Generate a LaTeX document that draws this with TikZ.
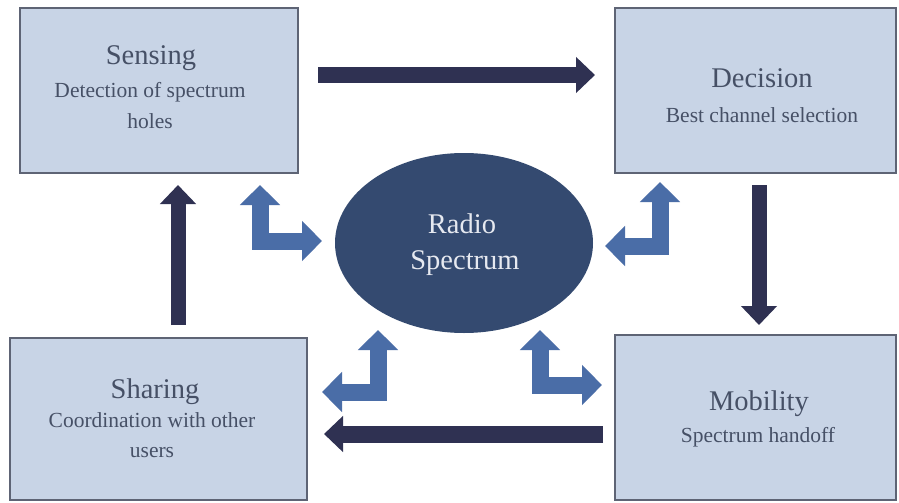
\documentclass[tikz,border=0pt]{standalone}
\usepackage{fontspec}
\setmainfont{Liberation Serif}
\usetikzlibrary{arrows.meta,shapes.geometric}
\definecolor{boxfill}{HTML}{C8D4E6}
\definecolor{boxline}{HTML}{5E6475}
\definecolor{txt}{HTML}{465066}
\definecolor{ellfill}{HTML}{344A70}
\definecolor{elltxt}{HTML}{E6E9F0}
\definecolor{navyarr}{HTML}{2F3152}
\definecolor{bluearr}{HTML}{4A6DA7}
\begin{document}
\begin{tikzpicture}[x=1pt,y=-1pt,
  stage/.style={draw=boxline, line width=2pt, fill=boxfill, inner sep=0pt},
  flow/.style={draw=navyarr, line width=15pt, -{Triangle[width=35pt,length=19pt]}},
  bendarr/.style={draw=bluearr, line width=17pt, line join=miter,
    {Triangle[width=39pt,length=20pt]}-{Triangle[width=39pt,length=20pt]}},
  ttl/.style={text=txt, inner sep=0pt, anchor=base, font=\fontsize{28.5}{34}\selectfont},
  sub/.style={text=txt, inner sep=0pt, anchor=base, font=\fontsize{21.5}{26}\selectfont},
  ell/.style={text=elltxt, inner sep=0pt, anchor=base, font=\fontsize{28.5}{34}\selectfont}]
\useasboundingbox (0,0) rectangle (899,503);
\fill[white] (0,0) rectangle (899,503);

% boxes
\node[stage, minimum width=278pt, minimum height=165pt] (sens) at (159,90.5) {};
\node[stage, minimum width=281pt, minimum height=165pt] (dec) at (755.5,90.5) {};
\node[stage, minimum width=297pt, minimum height=162pt] (shar) at (158.5,419) {};
\node[stage, minimum width=281pt, minimum height=165pt] (mob) at (755.5,417.5) {};
\node[ellipse, fill=ellfill, minimum width=258pt, minimum height=180pt, inner sep=0pt] (rs) at (464,243) {};

% texts
\node[ttl] (sensT) at (151,65) {Sensing};
\node[sub] (sensS1) at (150,97) {Detection of spectrum};
\node[sub] (sensS2) at (150,128) {holes};
\node[ttl] (decT) at (762,88) {Decision};
\node[sub] (decS) at (762,122) {Best channel selection};
\node[ttl] (sharT) at (155,398) {Sharing};
\node[sub] (sharS1) at (152,427) {Coordination with other};
\node[sub] (sharS2) at (152,457) {users};
\node[ttl] (mobT) at (759,410) {Mobility};
\node[sub] (mobS) at (758,442) {Spectrum handoff};
\node[ell] (rsT1) at (462,233) {Radio};
\node[ell] (rsT2) at (465,269) {Spectrum};

% cycle arrows
\draw[flow, shorten <=19pt, shorten >=19pt] (sens.east |- 0,75) -- (dec.west |- 0,75);
\draw[flow, shorten <=11pt, shorten >=9pt] (dec.south -| 759,0) -- (mob.north -| 759,0);
\draw[flow, line width=17pt, shorten <=11pt, shorten >=16pt] (mob.west |- 0,434) -- (shar.east |- 0,434);
\draw[flow, shorten <=12pt, shorten >=11pt] (shar.north -| 178,0) -- (sens.south -| 178,0);

% bent two-way arrows
\draw[bendarr] (260,185) -- (260,241) -- (322,241);
\draw[bendarr] (660,182) -- (660,246) -- (605,246);
\draw[bendarr] (378,330) -- (378,392) -- (322,392);
\draw[bendarr] (540,330) -- (540,385) -- (602,385);
\end{tikzpicture}
\end{document}
